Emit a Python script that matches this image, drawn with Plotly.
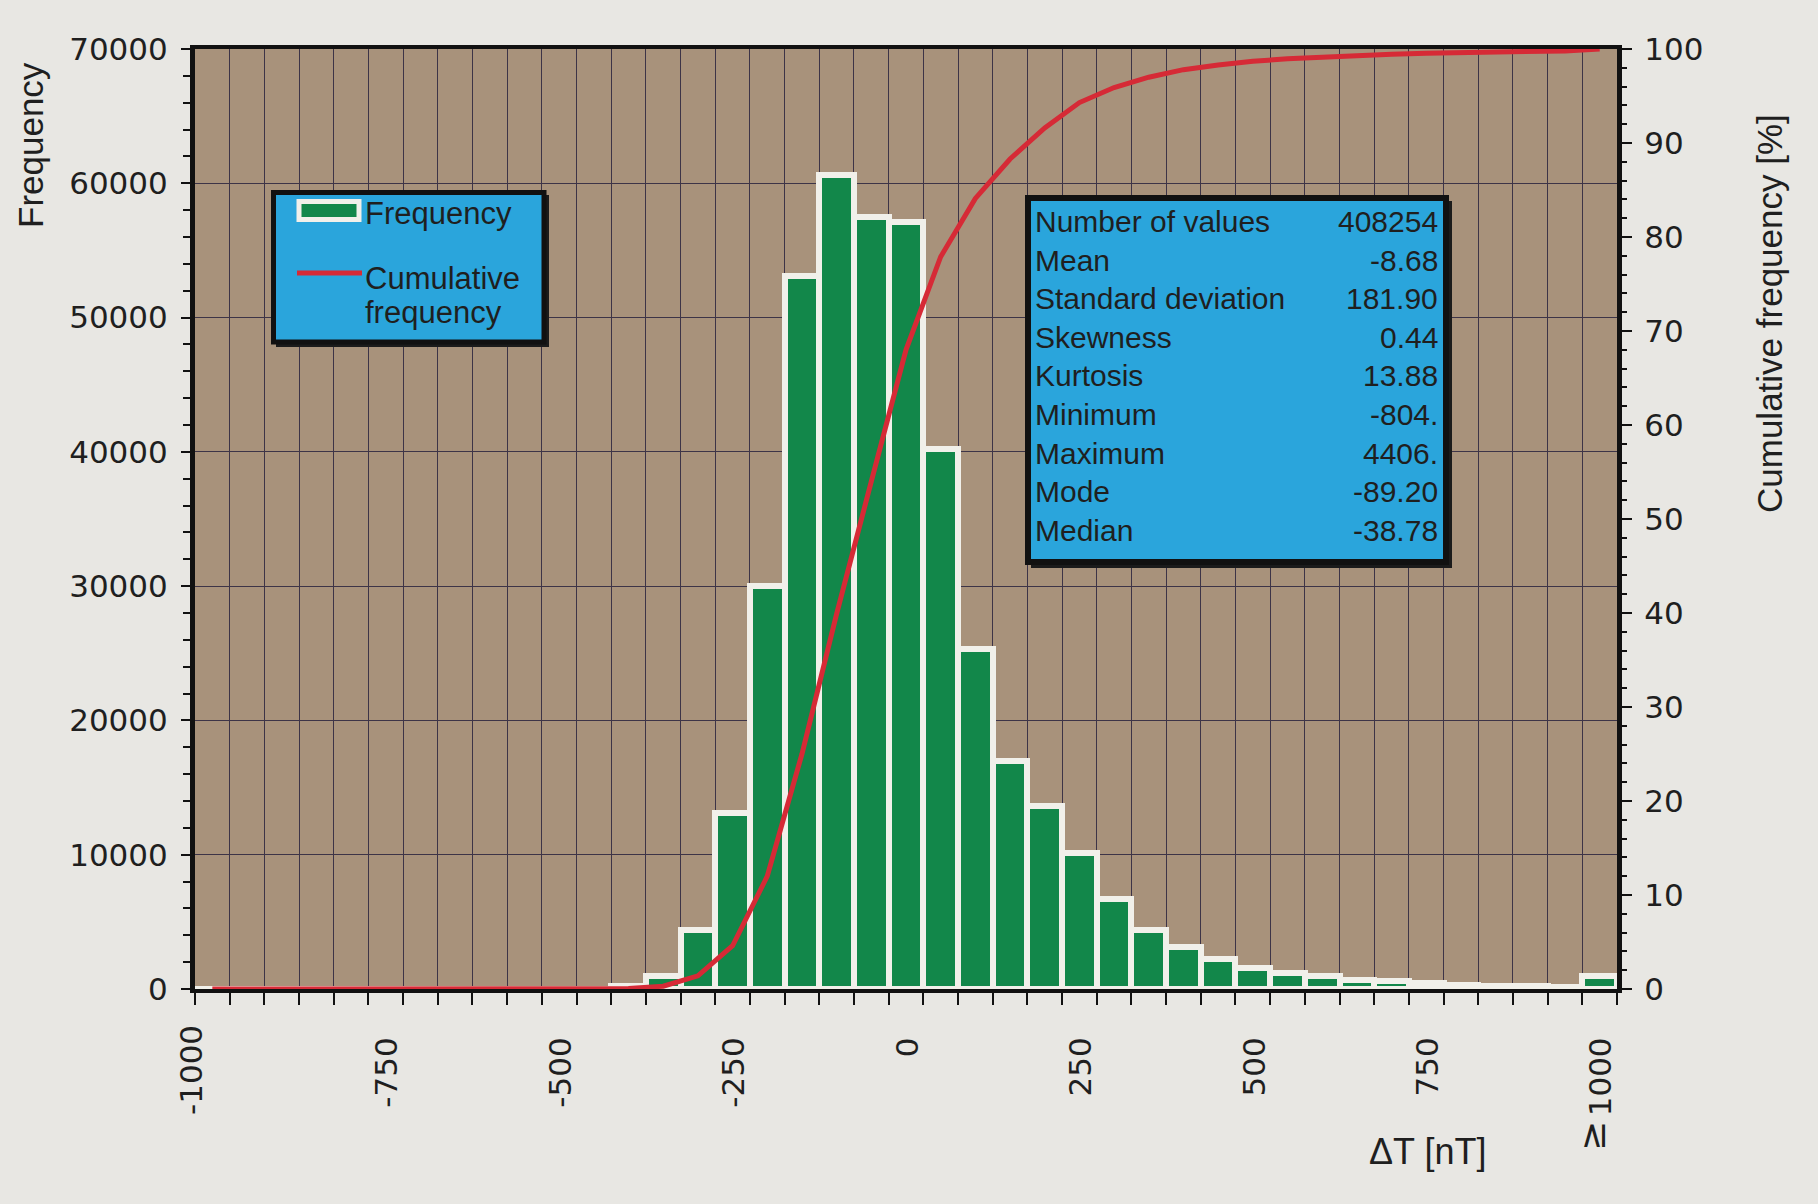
import plotly.graph_objects as go

# ---------------- data ----------------
bin_centers = [-975, -925, -875, -825, -775, -725, -675, -625, -575, -525, -475, -425,
               -375, -325, -275, -225, -175, -125, -75, -25, 25, 75, 125, 175, 225, 275,
               325, 375, 425, 475, 525, 575, 625, 675, 725, 775, 825, 875, 925, 975, 1025]
frequency = [0, 0, 0, 0, 0, 0, 0, 0, 0, 0, 0, 0,
             200, 1000, 4400, 13100, 30000, 53100, 60600, 57500, 57100, 40200, 25300,
             17000, 13600, 10100, 6700, 4400, 3100, 2200, 1600, 1200, 1000, 700, 600,
             450, 300, 250, 200, 150, 1000]
cumulative_pct = [0, 0, 0, 0, 0, 0, 0, 0, 0, 0, 0, 0,
                  0.05, 0.3, 1.4, 4.6, 12.0, 25.0, 39.9, 54.0, 68.0, 77.9, 84.1, 88.3,
                  91.6, 94.3, 95.9, 97.0, 97.8, 98.3, 98.7, 98.95, 99.15, 99.3, 99.45, 99.55,
                  99.6, 99.7, 99.75, 99.8, 100]

x_tick_values = [-1000, -750, -500, -250, 0, 250, 500, 750, 1000]
x_tick_labels = ["-1000", "-750", "-500", "-250", "0", "250", "500", "750", "1000"]

stat_names = ["Number of values", "Mean", "Standard deviation", "Skewness", "Kurtosis",
              "Minimum", "Maximum", "Mode", "Median"]
stat_values = ["408254", "-8.68", "181.90", "0.44", "13.88", "-804.", "4406.", "-89.20", "-38.78"]

# ---------------- styling ----------------
W, H = 1818, 1204
L, R, T, B = 195, 1617, 49, 989
PAPER = "#e8e7e3"
PLOTBG = "#a8927b"
GREEN = "#12874a"
CREAM = "#f1f0ea"
RED = "#d62a36"
BLUE = "#2aa5dc"
GRID = "#3d3447"
TXT = "#1f1f1f"
TEXTFONT = "Liberation Sans, Arial, sans-serif"
TICKFONT = "DejaVu Sans, sans-serif"


def px(x):
    return (x - L) / (R - L)


def py(y):
    return (B - y) / (B - T)


fig = go.Figure()
fig.add_trace(go.Bar(
    x=bin_centers, y=frequency, width=50,
    marker=dict(color=GREEN, line=dict(color=CREAM, width=6)),
    showlegend=False, name="Frequency"))
fig.add_trace(go.Scatter(
    x=bin_centers, y=cumulative_pct, yaxis="y2", mode="lines",
    line=dict(color=RED, width=5), cliponaxis=False,
    showlegend=False, name="Cumulative frequency"))

shapes = []
annotations = []

# legend box
shapes.append(dict(type="rect", xref="paper", yref="paper", layer="above",
                   x0=px(276), x1=px(549), y0=py(195), y1=py(347),
                   fillcolor="#1b1b1b", line=dict(width=0)))
shapes.append(dict(type="rect", xref="paper", yref="paper", layer="above",
                   x0=px(273.5), x1=px(544), y0=py(192.5), y1=py(342),
                   fillcolor=BLUE, line=dict(color="#111111", width=5)))
shapes.append(dict(type="rect", xref="paper", yref="paper", layer="above",
                   x0=px(299), x1=px(359), y0=py(201.5), y1=py(219.5),
                   fillcolor=GREEN, line=dict(color=CREAM, width=5)))
shapes.append(dict(type="line", xref="paper", yref="paper", layer="above",
                   x0=px(297), x1=px(362), y0=py(273), y1=py(273),
                   line=dict(color=RED, width=5)))
for txt, yc in [("Frequency", 214), ("Cumulative", 278), ("frequency", 312)]:
    annotations.append(dict(text=txt, xref="paper", yref="paper", x=px(363), y=py(yc),
                            xanchor="left", yanchor="middle", showarrow=False,
                            font=dict(family=TEXTFONT, size=31, color=TXT)))

# statistics box
shapes.append(dict(type="rect", xref="paper", yref="paper", layer="above",
                   x0=px(1031), x1=px(1452), y0=py(201), y1=py(568),
                   fillcolor="#1b1b1b", line=dict(width=0)))
shapes.append(dict(type="rect", xref="paper", yref="paper", layer="above",
                   x0=px(1028), x1=px(1446), y0=py(198), y1=py(562),
                   fillcolor=BLUE, line=dict(color="#111111", width=6)))
row_y0, row_step = 221.5, 38.6
for i, (nm, val) in enumerate(zip(stat_names, stat_values)):
    yc = row_y0 + i * row_step
    annotations.append(dict(text=nm, xref="paper", yref="paper", x=px(1033), y=py(yc),
                            xanchor="left", yanchor="middle", showarrow=False,
                            font=dict(family=TEXTFONT, size=30, color=TXT)))
    annotations.append(dict(text=val, xref="paper", yref="paper", x=px(1440), y=py(yc),
                            xanchor="right", yanchor="middle", showarrow=False,
                            font=dict(family=TEXTFONT, size=30, color=TXT)))

# axis titles
annotations.append(dict(text="Frequency", xref="paper", yref="paper", x=px(30), y=py(145),
                        textangle=-90, xanchor="center", yanchor="middle", showarrow=False,
                        font=dict(family=TEXTFONT, size=35, color=TXT)))
annotations.append(dict(text="Cumulative frequency [%]", xref="paper", yref="paper",
                        x=px(1770), y=py(313), textangle=-90, xanchor="center",
                        yanchor="middle", showarrow=False,
                        font=dict(family=TEXTFONT, size=35, color=TXT)))
annotations.append(dict(text="ΔT [nT]", xref="paper", yref="paper", x=px(1427), y=py(1151),
                        xanchor="center", yanchor="middle", showarrow=False,
                        font=dict(family=TEXTFONT, size=36, color=TXT)))
annotations.append(dict(text="≥", xref="paper", yref="paper", x=px(1592), y=py(1136),
                        textangle=-90, xanchor="center", yanchor="middle", showarrow=False,
                        font=dict(family=TICKFONT, size=36, color=TXT)))
# first x tick label sits slightly left of its tick in the reference
annotations.append(dict(text=x_tick_labels[0], xref="paper", yref="paper", x=px(191),
                        y=py(1070), textangle=-90, xanchor="center", yanchor="middle",
                        showarrow=False, font=dict(family=TICKFONT, size=31, color=TXT)))

fig.update_layout(
    width=W, height=H, autosize=False,
    paper_bgcolor=PAPER, plot_bgcolor=PLOTBG,
    margin=dict(l=L, r=W - R, t=T, b=H - B, pad=0),
    bargap=0, showlegend=False,
    shapes=shapes, annotations=annotations,
    xaxis=dict(
        range=[-1000, 1050], tickmode="array", tickvals=x_tick_values[1:],
        ticktext=x_tick_labels[1:],
        tickangle=-90, ticks="outside", ticklen=12, tickwidth=2, tickcolor="#111111",
        ticklabelshift=19, ticklabelstandoff=20,
        tickfont=dict(family=TICKFONT, size=31, color=TXT),
        showline=True, linewidth=4, linecolor="#111111", mirror=True,
        showgrid=True, gridcolor=GRID, gridwidth=1, zeroline=False,
        minor=dict(tick0=-1000, dtick=50, ticks="outside", ticklen=12, tickwidth=2,
                   tickcolor="#111111", showgrid=True, gridcolor=GRID, gridwidth=1),
    ),
    yaxis=dict(
        range=[0, 70000], dtick=10000, tick0=0, tickformat="d",
        ticks="outside", ticklen=9, tickwidth=2, tickcolor="#111111",
        ticklabelstandoff=7,
        tickfont=dict(family=TICKFONT, size=31, color=TXT),
        showline=True, linewidth=5, linecolor="#111111",
        showgrid=True, gridcolor=GRID, gridwidth=1, zeroline=False,
        minor=dict(dtick=2000, ticks="outside", ticklen=7, tickwidth=2,
                   tickcolor="#111111", showgrid=False),
    ),
    yaxis2=dict(
        range=[0, 100], dtick=10, tick0=0, overlaying="y", side="right", anchor="x",
        ticks="outside", ticklen=10, tickwidth=2, tickcolor="#111111",
        ticklabelstandoff=6,
        tickfont=dict(family=TICKFONT, size=31, color=TXT),
        showline=True, linewidth=5, linecolor="#111111",
        showgrid=False, zeroline=False,
        minor=dict(dtick=2, ticks="outside", ticklen=5, tickwidth=2,
                   tickcolor="#111111", showgrid=False),
    ),
)

fig.write_html(
    "out.html",
    config={"displayModeBar": False},
    post_script="document.body.style.margin='0';document.body.style.background='" + PAPER + "';",
)
